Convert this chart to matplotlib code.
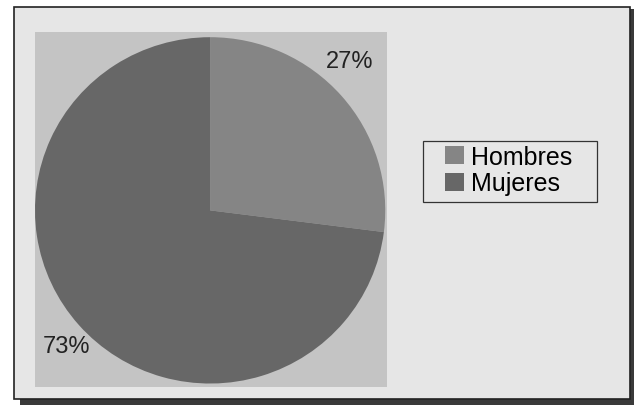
import matplotlib
matplotlib.use("Agg")
import matplotlib.pyplot as plt
from matplotlib.patches import Rectangle

# datos del gráfico
categorias = ["Hombres", "Mujeres"]
porcentajes = [27, 73]
etiquetas = ["27%", "73%"]
colores = ["#858585", "#676767"]

fig = plt.figure(figsize=(6.38, 4.10), dpi=100, facecolor="white")
W, H = 638, 410

def px(x, y, w, h):
    # convierte coordenadas de pixel (origen arriba) a fracciones de figura
    return (x / W, 1 - (y + h) / H, w / W, h / H)

# sombra del marco
fig.patches.append(Rectangle((20 / W, 1 - 406 / H), 614 / W, 396 / H,
                             transform=fig.transFigure, facecolor="#3a3a3a",
                             edgecolor="none", zorder=-2))
# marco exterior
fig.patches.append(Rectangle((14 / W, 1 - 400 / H), 616 / W, 392 / H,
                             transform=fig.transFigure, facecolor="#e6e6e6",
                             edgecolor="#222222", linewidth=1.2, zorder=-1))
# caja de la leyenda
fig.patches.append(Rectangle(px(423, 142, 174, 61)[:2], 174 / W, 61 / H,
                             transform=fig.transFigure, facecolor="#e6e6e6",
                             edgecolor="#333333", linewidth=0.9, zorder=-1))

# área del gráfico
ax = fig.add_axes(px(35, 33, 352, 355))
ax.set_zorder(2)
wedges, _ = ax.pie(porcentajes, colors=colores, startangle=90, counterclock=False,
                   radius=1.0, wedgeprops=dict(linewidth=0))
ax.set_frame_on(True)
ax.set_facecolor("#c4c4c4")
ax.set_xlim(-1.0, 1.01)
ax.set_ylim(-1.02, 1.03)
ax.set_aspect("auto")
for s in ax.spines.values():
    s.set_visible(False)
ax.set_xticks([])
ax.set_yticks([])

fig.text(350 / W, 1 - 62 / H, etiquetas[0], fontsize=17, ha="center", va="center",
         family="Liberation Sans", color="#222222", zorder=5)
fig.text(67 / W, 1 - 347 / H, etiquetas[1], fontsize=17, ha="center", va="center",
         family="Liberation Sans", color="#222222", zorder=5)

leg = fig.legend(wedges, categorias, loc="upper left", bbox_to_anchor=(445 / W, 1 - 146 / H),
                 frameon=False, prop=dict(family="Liberation Sans", size=18),
                 handlelength=0.75, handleheight=0.75, handletextpad=0.3, borderpad=0.0,
                 labelspacing=0.1, borderaxespad=0)
leg.set_zorder(5)

fig.savefig("out.png", dpi=100, facecolor="white")
